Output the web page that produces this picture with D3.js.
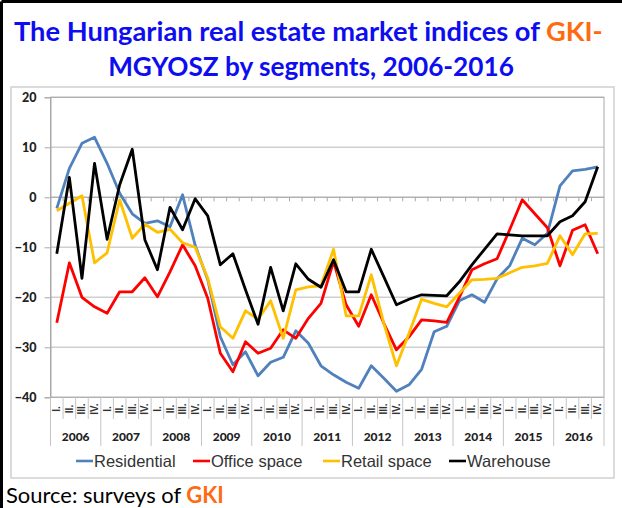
<!DOCTYPE html>
<html>
<head>
<meta charset="utf-8">
<script src="https://cdn.jsdelivr.net/npm/d3@7"></script>
<style>
  body { margin: 0; background: white; }
  svg { display: block; }
</style>
</head>
<body>
<svg id="chart" width="622" height="508"></svg>
<script>
// chart data (quarterly, 2006 Q1 - 2016 Q4)
const years = ["2006", "2007", "2008", "2009", "2010", "2011", "2012", "2013", "2014", "2015", "2016"];
const quarters = ["I.", "II.", "III.", "IV."];
const yTicks = [20, 10, 0, -10, -20, -30, -40];

const residential = [-2.2, 5.8, 10.8, 12, 6.8, 0.8, -3.3, -5.2, -4.7, -5.9, 0.5, -9.6,
    -16.5, -27.9, -33.5, -30.9, -35.7, -33, -32, -26.7, -29.2, -33.7, -35.5, -37,
    -38.2, -33.7, -36.2, -38.8, -37.5, -34.4, -26.9, -25.8, -20.7, -19.5, -21, -16.3,
    -13.7, -8.2, -9.5, -7.2, 2.3, 5.3, 5.6, 6.1];
const office = [-25.1, -13.1, -20, -21.9, -23.2, -18.9, -18.9, -16.1, -19.9, -14.9, -9.5, -13.7,
    -20.2, -31.2, -34.9, -28.9, -31.2, -30.2, -26.5, -28.2, -24.2, -21.2, -12.8, -21.5,
    -25.8, -19.5, -25.2, -30.5, -27.9, -24.5, -24.7, -25, -20, -14.5, -13.3, -12.3,
    -6.5, -0.5, -3.3, -6.1, -13.7, -6.6, -5.5, -11.3];
const retail = [-2.7, -1.2, 0.3, -13.1, -11.1, -0.5, -8.2, -5.4, -7, -6.4, -9.1, -10,
    -16.2, -25.9, -28.2, -22.7, -24.4, -20.7, -28.2, -18.5, -17.9, -17.7, -10.4, -23.7,
    -23.7, -15.5, -25.2, -33.7, -27.2, -20.4, -21.2, -21.9, -19.2, -16.5, -16.4, -16.2,
    -15.1, -14, -13.7, -13.2, -7.7, -11.5, -7.3, -7.2];
const warehouse = [-11.3, 4, -16.2, 6.8, -8.4, 2.5, 9.6, -8.5, -14.5, -2, -6.5, -0.3,
    -3.7, -13.5, -11.3, -18.5, -25.4, -14, -22.7, -13.3, -16.4, -18, -12.5, -18.9,
    -18.9, -10.4, -15.9, -21.5, -20.4, -19.5, -19.6, -19.7, -16.9, -13.5, -10.4, -7.3,
    -7.5, -7.7, -7.7, -7.7, -4.9, -3.7, -0.9, 6.1];

const seriesNames = ["Residential", "Office space", "Retail space", "Warehouse"];
const seriesValues = [residential, office, retail, warehouse];
const seriesColors = ["#4f81bd", "#ff0000", "#ffc000", "#000000"];

const svg = d3.select("#chart");

// outer frame (top and left edges visible)
svg.append("line").attr("x1", 1.5).attr("y1", 1.5).attr("x2", 622).attr("y2", 1.5)
    .attr("stroke", "#000").attr("stroke-width", 3);
svg.append("line").attr("x1", 1.5).attr("y1", 1.5).attr("x2", 1.5).attr("y2", 508)
    .attr("stroke", "#000").attr("stroke-width", 3);

// title
const titleFont = "Lato, 'Open Sans', sans-serif";
function fitText(sel, width) {
    const len = sel.node().getComputedTextLength();
    const size = parseFloat(sel.style("font-size"));
    sel.style("font-size", (size * width / len) + "px");
}
const t1 = svg.append("text")
    .attr("x", 14).attr("y", 41)
    .style("font-family", titleFont).style("font-weight", "bold")
    .style("font-size", "27px").attr("fill", "#0d0df0");
t1.append("tspan").text("The Hungarian real estate market indices of ");
t1.append("tspan").attr("fill", "#ff6a10").text("GKI-");
fitText(t1, 589);

const t2 = svg.append("text")
    .attr("x", 311).attr("y", 76).attr("text-anchor", "middle")
    .style("font-family", titleFont).style("font-weight", "bold")
    .style("font-size", "27px").attr("fill", "#0d0df0")
    .text("MGYOSZ by segments, 2006-2016");
fitText(t2, 406);

// chart area box
svg.append("rect")
    .attr("x", 11).attr("y", 87).attr("width", 603).attr("height", 391)
    .attr("fill", "white").attr("stroke", "#d0d0d0").attr("stroke-width", 1.5);

// scales
const keys = [];
years.forEach(y => quarters.forEach(q => keys.push(y + " " + q)));
const x = d3.scaleBand().domain(keys).range([50.5, 604]).padding(0);
const y = d3.scaleLinear().domain([-40, 20]).range([397.3, 97.3]);
const cx = i => x(keys[i]) + x.bandwidth() / 2;

// gridlines
svg.append("g").selectAll("line").data(yTicks).join("line")
    .attr("x1", 50.5).attr("x2", 604)
    .attr("y1", d => y(d)).attr("y2", d => y(d))
    .attr("stroke", "#cfcfcf").attr("stroke-width", 1.5);

// plot frame
svg.append("rect")
    .attr("x", 50.5).attr("y", y(20)).attr("width", 553.5).attr("height", y(-40) - y(20))
    .attr("fill", "none").attr("stroke", "#a8a8a8").attr("stroke-width", 1);

// y axis
const yAxis = svg.append("g").attr("transform", "translate(50.5,0)")
    .call(d3.axisLeft(y).tickValues(yTicks).tickSize(6).tickPadding(8).tickFormat(d3.format("d")));
yAxis.select(".domain").attr("stroke", "#a8a8a8");
yAxis.selectAll(".tick line").attr("stroke", "#a8a8a8");
yAxis.selectAll("text")
    .style("font-family", "Lato, 'DejaVu Sans', sans-serif").style("font-weight", "900")
    .style("font-size", "12.5px").attr("fill", "#222");

// horizontal axis line at 0 with tick marks at quarter boundaries
svg.append("line").attr("x1", 50.5).attr("x2", 604).attr("y1", y(0)).attr("y2", y(0))
    .attr("stroke", "#a8a8a8").attr("stroke-width", 1);
svg.append("g").selectAll("line").data(keys).join("line")
    .attr("x1", d => x(d)).attr("x2", d => x(d))
    .attr("y1", y(0)).attr("y2", y(0) + 4)
    .attr("stroke", "#a8a8a8").attr("stroke-width", 1);

// category labels: quarters and years
const catG = svg.append("g");
keys.forEach((k, i) => {
    const isYearStart = i % 4 === 0;
    catG.append("line")
        .attr("x1", x(k)).attr("x2", x(k))
        .attr("y1", y(-40)).attr("y2", isYearStart ? 446 : 419)
        .attr("stroke", "#c4c4c4").attr("stroke-width", 1);
});
catG.append("line").attr("x1", 604).attr("x2", 604).attr("y1", y(-40)).attr("y2", 446)
    .attr("stroke", "#c4c4c4").attr("stroke-width", 1);

keys.forEach((k, i) => {
    catG.append("text")
        .attr("transform", `translate(${cx(i)},409) rotate(-90)`)
        .attr("text-anchor", "middle").attr("dy", "0.35em")
        .style("font-family", "'Liberation Sans', Arial, sans-serif").style("font-weight", "bold")
        .style("font-size", "10px").attr("fill", "#333")
        .text(quarters[i % 4]);
});
years.forEach((yr, j) => {
    const mid = (x(yr + " I.") + x(yr + " IV.") + x.bandwidth()) / 2;
    catG.append("text")
        .attr("x", mid).attr("y", 441).attr("text-anchor", "middle")
        .style("font-family", "Lato, 'DejaVu Sans', sans-serif").style("font-weight", "900")
        .style("font-size", "12px").attr("fill", "#222")
        .text(yr);
});

// series lines
const line = d3.line()
    .x((d, i) => cx(i))
    .y(d => y(d));
seriesValues.forEach((vals, s) => {
    svg.append("path")
        .datum(vals)
        .attr("d", line)
        .attr("fill", "none")
        .attr("stroke", seriesColors[s])
        .attr("stroke-width", 2.8)
        .attr("stroke-linejoin", "round");
});

// legend
const legendX = [76, 193, 323, 449];
seriesNames.forEach((name, s) => {
    const g = svg.append("g").attr("transform", `translate(${legendX[s]},461)`);
    g.append("line").attr("x1", 0).attr("x2", 17).attr("y1", 0).attr("y2", 0)
        .attr("stroke", seriesColors[s]).attr("stroke-width", 2.6);
    g.append("text").attr("x", 18).attr("y", 0).attr("dy", "0.35em")
        .style("font-family", "'Liberation Sans', Arial, sans-serif")
        .style("font-size", "16.5px").attr("fill", "#333")
        .text(name);
});

// source note
const src = svg.append("text")
    .attr("x", 6).attr("y", 503)
    .style("font-family", "Lato, 'Open Sans', sans-serif")
    .style("font-size", "19px").attr("fill", "#000");
src.append("tspan").text("Source: surveys of ");
src.append("tspan").attr("fill", "#ff6a10").style("font-weight", "bold").text("GKI");
fitText(src, 218);
</script>
</body>
</html>
